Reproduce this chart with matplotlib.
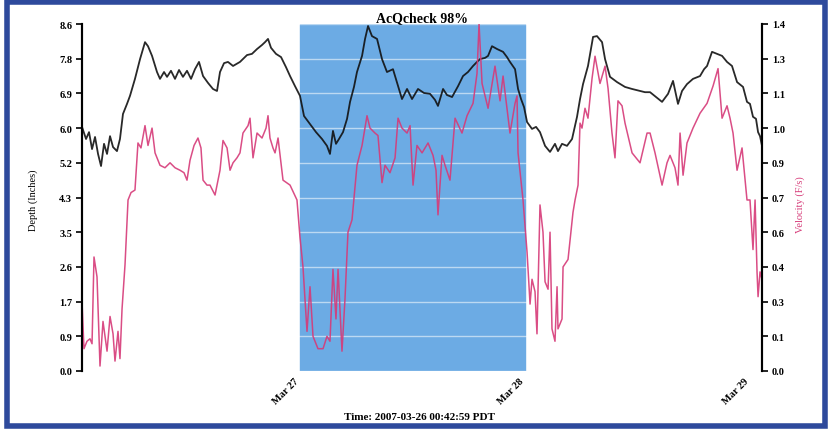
import numpy as np
import pandas as pd
import matplotlib
matplotlib.use('Agg')
import matplotlib.pyplot as plt
import matplotlib.dates as mdates
from matplotlib.patches import Rectangle

# Flow monitor chart: depth (black, left axis) and velocity (pink, right axis)
# ----------------------------------------------------------------------------

start = pd.Timestamp('2007-03-26 00:42:59')
title = 'AcQcheck 98%'
x_label = 'Time: 2007-03-26 00:42:59 PDT'

# depth trace: hours since start, depth in inches
depth_hours = [0.0, 0.43, 0.75, 1.07, 1.39, 1.71, 2.03, 2.35, 2.67, 2.99, 3.31, 3.73, 4.05, 4.37,
               4.80, 5.12, 5.65, 6.19, 6.72, 7.04, 7.47, 8.00, 8.32, 8.75, 9.07, 9.49, 9.92, 10.35,
               10.77, 11.20, 11.63, 12.05, 12.48, 12.91, 13.44, 13.97, 14.40, 14.72, 15.15, 15.57,
               16.11, 16.85, 17.60, 18.13, 18.67, 19.20, 19.52, 19.84, 20.16, 20.69, 21.23, 21.76,
               22.19, 22.72, 23.25, 23.68, 24.32, 24.96, 25.60, 26.13, 26.45, 26.77, 27.09, 27.41,
               27.84, 28.27, 28.59, 29.01, 29.33, 29.87, 30.19, 30.51, 30.93, 31.47, 32.00, 32.53,
               33.17, 33.71, 34.13, 34.67, 35.20, 35.84, 36.48, 37.12, 37.65, 37.97, 38.51, 38.93,
               39.47, 40.11, 40.64, 41.17, 41.71, 42.13, 42.45, 42.99, 43.31, 43.73, 44.27, 44.91,
               45.33, 45.65, 46.19, 46.51, 46.83, 47.15, 47.47, 48.00, 48.43, 48.85, 49.39, 49.92,
               50.45, 50.77, 51.20, 51.73, 52.27, 52.80, 53.12, 53.44, 53.97, 54.51, 54.93, 55.47,
               55.79, 56.32, 57.07, 57.92, 58.67, 59.52, 60.05, 60.59, 61.23, 61.87, 62.51, 63.04,
               63.57, 64.00, 64.53, 65.17, 65.92, 66.35, 66.67, 67.20, 67.73, 68.27, 68.80, 69.33,
               69.87, 70.51, 70.93, 71.25, 71.57, 71.89, 72.11, 72.32, 72.53]
depth = [6.05, 5.75, 5.92, 5.50, 5.80, 5.38, 5.08, 5.63, 5.38, 5.82, 5.55, 5.45, 5.75, 6.37,
         6.62, 6.82, 7.24, 7.73, 8.15, 8.05, 7.81, 7.41, 7.24, 7.41, 7.29, 7.44, 7.24, 7.46,
         7.29, 7.44, 7.24, 7.48, 7.66, 7.31, 7.14, 6.99, 6.94, 7.41, 7.63, 7.66,
         7.56, 7.66, 7.83, 7.86, 7.98, 8.08, 8.15, 8.23, 8.01, 7.86, 7.78, 7.53,
         7.31, 7.06, 6.82, 6.32, 6.12, 5.92, 5.75, 5.58, 5.38, 5.95, 5.63, 5.75,
         5.92, 6.25, 6.67, 7.04, 7.41, 7.81, 8.23, 8.55, 8.30, 8.23, 7.73, 7.41,
         7.48, 7.06, 6.74, 6.99, 6.74, 6.99, 6.89, 6.87, 6.72, 6.57, 6.99, 6.84,
         6.79, 7.06, 7.31, 7.41, 7.56, 7.66, 7.73, 7.76, 7.81, 8.05, 7.98, 7.91,
         7.78, 7.66, 7.48, 6.99, 6.74, 6.54, 6.17, 6.00, 6.05, 5.92, 5.58, 5.43,
         5.63, 5.45, 5.63, 5.58, 5.75, 6.30, 6.74, 7.11, 7.56, 8.28, 8.30, 8.15,
         7.73, 7.29, 7.16, 7.04, 6.99, 6.94, 6.91, 6.91, 6.79, 6.67, 6.87, 7.19,
         6.62, 6.94, 7.11, 7.24, 7.31, 7.48, 7.56, 7.91, 7.86, 7.81, 7.66, 7.56,
         7.16, 7.04, 6.67, 6.62, 6.30, 6.25, 5.92, 5.82, 5.58]

# velocity trace: hours since start, velocity in ft/s
vel_hours = [0.0, 0.21, 0.53, 0.85, 1.07, 1.28, 1.60, 1.92, 2.24, 2.67, 2.99, 3.31, 3.52, 3.84,
             4.05, 4.27, 4.59, 4.91, 5.23, 5.65, 5.97, 6.29, 6.72, 7.04, 7.47, 7.79, 8.32, 8.85,
             9.39, 9.92, 10.45, 10.88, 11.20, 11.52, 11.95, 12.37, 12.69, 12.91, 13.33, 13.65,
             14.19, 14.72, 15.04, 15.47, 15.79, 16.11, 16.53, 16.85, 17.17, 17.71, 17.92, 18.24,
             18.67, 19.20, 19.63, 19.84, 20.05, 20.37, 20.59, 20.91, 21.44, 22.19, 22.93, 23.25,
             23.57, 24.00, 24.32, 24.64, 25.17, 25.71, 26.13, 26.45, 26.77, 27.09, 27.31, 27.73,
             28.05, 28.37, 28.80, 29.33, 29.87, 30.40, 30.72, 31.25, 31.57, 32.00, 32.32, 32.85,
             33.39, 33.71, 34.13, 34.67, 34.99, 35.31, 35.73, 36.27, 36.91, 37.44, 37.76, 37.97,
             38.40, 38.72, 39.25, 39.79, 40.53, 41.07, 41.71, 42.13, 42.35, 42.67, 43.31, 44.05,
             44.59, 44.91, 45.65, 46.19, 46.40, 46.51, 47.04, 47.47, 47.79, 48.00, 48.32, 48.53,
             48.85, 49.17, 49.39, 49.71, 49.92, 50.13, 50.45, 50.67, 50.77, 51.20, 51.31, 51.84,
             52.37, 52.59, 52.91, 53.12, 53.33, 53.65, 53.97, 54.40, 54.72, 55.25, 55.79, 56.11,
             56.53, 56.85, 57.17, 57.60, 57.92, 58.67, 59.52, 60.27, 60.59, 61.12, 61.87, 62.40,
             62.72, 63.25, 63.57, 63.79, 64.11, 64.53, 65.17, 65.92, 66.67, 67.31, 67.84, 68.27,
             68.80, 69.12, 69.44, 69.87, 70.40, 70.93, 71.25, 71.57, 71.79, 72.00, 72.11, 72.32,
             72.53]
velocity = [0.28, 0.09, 0.12, 0.13, 0.11, 0.46, 0.38, 0.02, 0.20, 0.08, 0.22, 0.15, 0.04, 0.16,
            0.05, 0.25, 0.43, 0.69, 0.72, 0.73, 0.92, 0.90, 0.99, 0.91, 0.98, 0.88, 0.83, 0.82,
            0.84, 0.82, 0.81, 0.80, 0.77, 0.85, 0.91, 0.94, 0.90, 0.77, 0.75, 0.75,
            0.71, 0.81, 0.93, 0.90, 0.81, 0.84, 0.86, 0.88, 0.96, 0.99, 1.02, 0.86,
            0.96, 0.94, 0.98, 1.03, 0.94, 0.90, 0.88, 0.94, 0.77, 0.75, 0.69, 0.54,
            0.42, 0.16, 0.34, 0.14, 0.09, 0.09, 0.14, 0.12, 0.41, 0.21, 0.41, 0.08,
            0.29, 0.56, 0.61, 0.83, 0.91, 1.03, 0.98, 0.96, 0.95, 0.76, 0.83, 0.80,
            0.86, 1.02, 0.98, 0.96, 0.99, 0.75, 0.91, 0.88, 0.92, 0.87, 0.81, 0.63,
            0.87, 0.83, 0.77, 1.02, 0.96, 1.03, 1.08, 1.20, 1.40, 1.16, 1.06, 1.23,
            1.09, 1.19, 0.96, 1.08, 1.11, 0.88, 0.69, 0.48, 0.27, 0.37, 0.32, 0.15,
            0.67, 0.56, 0.36, 0.33, 0.56, 0.17, 0.12, 0.34, 0.17, 0.21, 0.42, 0.45,
            0.64, 0.69, 0.75, 1.00, 0.98, 1.06, 1.02, 1.18, 1.27, 1.16, 1.23, 1.14,
            0.96, 0.86, 1.09, 1.07, 1.00, 0.88, 0.84, 0.96, 0.96, 0.88, 0.75, 0.84,
            0.87, 0.82, 0.75, 0.96, 0.79, 0.92, 0.98, 1.04, 1.08, 1.15, 1.22, 1.02,
            1.07, 1.02, 0.96, 0.81, 0.90, 0.69, 0.69, 0.49, 0.69, 0.40, 0.30, 0.40,
            0.37]

depth_ticks = np.linspace(0, 8.6, 11)
depth_labels = ['0.0', '0.9', '1.7', '2.6', '3.5', '4.3', '5.2', '6.0', '6.9', '7.8', '8.6']
vel_ticks = np.linspace(0, 1.4, 11)
vel_labels = ['0.0', '0.1', '0.3', '0.4', '0.6', '0.7', '0.9', '1.0', '1.1', '1.3', '1.4']

shade_from = pd.Timestamp('2007-03-27')
shade_to = pd.Timestamp('2007-03-28')
x_end_hours = 72.53

# ----------------------------------------------------------------------------

plt.rcParams['font.family'] = ['Liberation Serif', 'DejaVu Serif']

t_depth = start + pd.to_timedelta(depth_hours, unit='h')
t_vel = start + pd.to_timedelta(vel_hours, unit='h')

fig = plt.figure(figsize=(8.3, 4.31), dpi=100)
ax = fig.add_axes([82 / 830, 1 - 372 / 431, 680 / 830, 347 / 431])
ax2 = ax.twinx()

ax.axvspan(shade_from, shade_to, color='#6cabe4', zorder=0.5)
# white grid only shows up on the shaded band
ax.grid(axis='y', color='white', lw=1.0, alpha=0.55, zorder=0.8)

ax.plot(t_depth, depth, color='#111111', lw=1.3, alpha=0.9, zorder=2)
ax2.plot(t_vel, velocity, color='#d63a78', lw=1.1, alpha=0.9, zorder=2)

ax.set_xlim(start, start + pd.Timedelta(hours=x_end_hours))
ax.set_ylim(0, 8.6)
ax2.set_ylim(0, 1.4)

ax.set_yticks(depth_ticks)
ax.set_yticklabels(depth_labels, fontsize=7.5, fontweight='bold')
ax2.set_yticks(vel_ticks)
ax2.set_yticklabels(vel_labels, fontsize=7.5, fontweight='bold')
ax2.grid(False)

ax.xaxis.set_major_locator(mdates.DayLocator())
ax.xaxis.set_major_formatter(mdates.DateFormatter('%b %d'))
for lbl in ax.get_xticklabels():
    lbl.set_rotation(45)
    lbl.set_ha('right')
    lbl.set_fontsize(7.5)
    lbl.set_fontweight('bold')
ax.tick_params(axis='x', length=0, pad=4)
ax.tick_params(axis='y', length=4, width=1.2, pad=3)
ax2.tick_params(axis='y', length=4, width=1.2, pad=3)

for a in (ax, ax2):
    a.spines['top'].set_visible(False)
    a.spines['bottom'].set_visible(False)
    a.spines['left'].set_linewidth(1.5)
    a.spines['right'].set_linewidth(1.5)
    a.patch.set_visible(False)

ax.set_title(title, fontsize=10, fontweight='bold', pad=2)
fig.text(0.506, 1 - 418 / 431, x_label, ha='center', va='center',
         fontsize=8, fontweight='bold')
fig.text(33 / 830, 1 - 200 / 431, 'Depth (Inches)', rotation=90,
         ha='center', va='center', fontsize=7.5)
fig.text(800 / 830, 1 - 205 / 431, 'Velocity (F/s)', rotation=90,
         ha='center', va='center', fontsize=7.5, color='#d63a78')

# scanned page frame
fig.patches.append(Rectangle((0.009, 0.009), 0.985, 0.984, transform=fig.transFigure,
                             fill=False, edgecolor='#2e4a9c', lw=4))

fig.savefig('out.png', dpi=100)
